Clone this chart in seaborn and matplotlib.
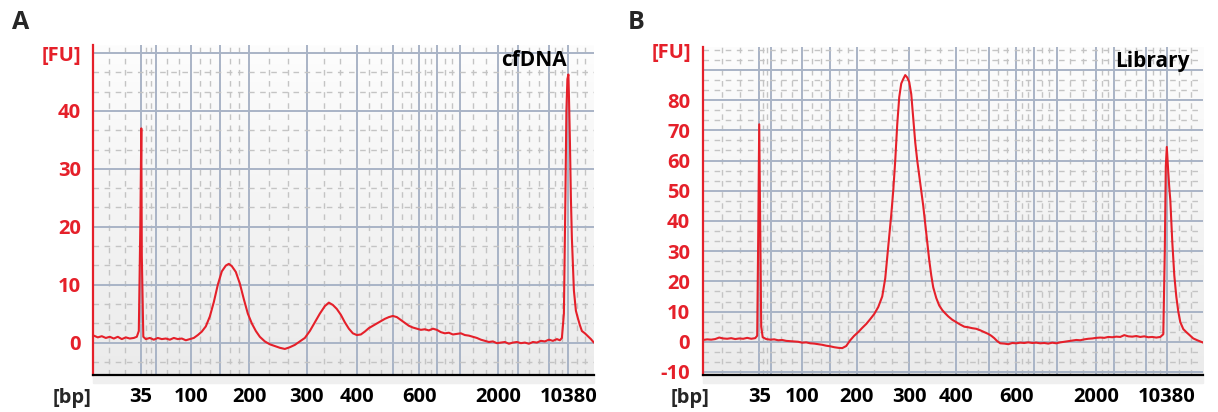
import numpy as np
import pandas as pd
import matplotlib
matplotlib.use('Agg')
from matplotlib import pyplot as plt
from matplotlib import transforms
from matplotlib.colors import LinearSegmentedColormap
from matplotlib.ticker import FixedLocator
import seaborn as sns

sns.set_style('white')
plt.rcParams['font.family'] = ['Open Sans', 'DejaVu Sans']
plt.rcParams['font.weight'] = 'bold'

# ladder sizes (bp) shown on the x axis and their migration times (s)
ladder_labels = ['35', '', '100', '', '200', '300', '400', '', '600', '', '', '2000', '', '', '10380']
ladder_time_a = [29.5, 32.5, 39.5, 45.3, 51.2, 62.7, 72.7, 79.9, 85.2, 88.7, 93.3, 101.0, 105.0, 111.1, 115.0]
ladder_time_b = [31.3, 33.6, 39.9, 45.5, 50.8, 61.3, 70.6, 77.3, 82.7, 86.3, 90.8, 98.6, 102.3, 108.7, 112.8]

# A: cfDNA trace
time_a = [20.1, 20.9, 21.7, 22.5, 23.3, 24.1, 24.9, 25.7, 26.5, 27.3, 28.1, 28.7, 29.1, 29.4, 29.6,
          29.7, 29.9, 30.0, 30.5, 31.3, 32.1, 32.9, 33.7, 34.5, 35.3, 36.1, 36.9, 37.7, 38.5, 39.3,
          40.1, 40.9, 41.7, 42.5, 43.3, 44.1, 44.9, 45.7, 46.5, 47.1, 47.7, 48.5, 49.3, 50.1, 50.9,
          51.7, 52.5, 53.3, 54.3, 55.3, 56.3, 57.3, 58.3, 59.3, 60.3, 61.3, 62.3, 63.3, 64.3, 65.3,
          66.3, 67.1, 67.9, 68.7, 69.5, 70.3, 71.1, 71.9, 72.7, 73.5, 74.3, 75.1, 75.9, 76.7, 77.5,
          78.3, 79.1, 79.9, 80.7, 81.5, 82.3, 83.1, 83.9, 84.7, 85.5, 86.3, 87.1, 87.9, 88.7, 89.5,
          90.3, 91.1, 91.9, 92.7, 93.5, 94.3, 95.1, 95.9, 96.7, 97.5, 98.3, 99.1, 99.9, 100.7, 101.5,
          102.3, 103.1, 103.9, 104.7, 105.5, 106.3, 107.1, 107.9, 108.7, 109.5, 110.3, 111.1, 111.9, 112.7, 113.3,
          113.7, 114.1, 114.4, 114.6, 114.8, 115.0, 115.1, 115.3, 115.5, 115.7, 116.1, 116.5, 116.9, 117.3, 117.7,
          118.3, 118.9, 119.5, 120.1]
fu_a = [1.2, 0.9, 1.1, 0.8, 1.0, 0.7, 1.0, 0.6, 0.9, 0.7, 0.8, 1.0, 2.0, 20, 37,
        15, 5, 1.0, 0.6, 0.8, 0.5, 0.8, 0.6, 0.7, 0.5, 0.8, 0.6, 0.7, 0.4, 0.6,
        0.8, 1.3, 1.9, 2.8, 4.5, 7.0, 10.0, 12.3, 13.3, 13.6, 13.2, 12.2, 10.2, 7.5, 5.0,
        3.3, 2.0, 1.0, 0.2, -0.3, -0.6, -0.9, -1.1, -0.8, -0.4, 0.2, 0.8, 2.0, 3.5, 5.0,
        6.3, 6.9, 6.5, 5.8, 4.8, 3.5, 2.4, 1.6, 1.3, 1.4, 1.9, 2.5, 2.9, 3.3, 3.7,
        4.1, 4.4, 4.6, 4.4, 3.9, 3.4, 2.9, 2.6, 2.4, 2.2, 2.3, 2.1, 2.4, 2.2, 1.8,
        1.6, 1.7, 1.4, 1.5, 1.6, 1.3, 1.2, 1.0, 0.8, 0.5, 0.3, 0.1, 0.2, -0.1, 0.0,
        0.1, -0.2, 0.0, 0.1, -0.1, 0.0, -0.2, 0.1, 0.0, 0.3, 0.2, 0.5, 0.3, 0.6, 0.4,
        0.8, 5, 25, 40, 45.5, 46.3, 43, 35, 25, 18, 9, 5.5, 4.2, 3.0, 2.0,
        1.6, 1.1, 0.6, 0.0]

# B: library trace
time_b = [20.1, 20.9, 21.7, 22.5, 23.3, 24.1, 24.9, 25.7, 26.5, 27.3, 28.1, 28.9, 29.7, 30.5, 30.9,
          31.1, 31.3, 31.5, 31.7, 32.0, 32.7, 33.5, 34.3, 35.1, 35.9, 36.7, 37.5, 38.3, 39.1, 39.9,
          40.7, 41.5, 42.3, 43.1, 43.9, 44.7, 45.5, 46.3, 47.1, 47.9, 48.7, 49.5, 50.3, 51.1, 51.9,
          52.7, 53.5, 54.3, 55.1, 55.9, 56.5, 56.9, 57.3, 57.7, 58.1, 58.5, 58.9, 59.3, 59.7, 60.1,
          60.5, 60.9, 61.3, 61.7, 62.1, 62.5, 62.9, 63.3, 63.7, 64.1, 64.5, 64.9, 65.3, 65.7, 66.1,
          66.7, 67.3, 67.9, 68.5, 69.1, 69.9, 70.7, 71.5, 72.3, 73.1, 73.9, 74.7, 75.5, 76.3, 77.1,
          77.7, 78.3, 78.9, 79.5, 80.3, 81.1, 81.9, 82.7, 83.5, 84.3, 85.1, 85.9, 86.7, 87.5, 88.3,
          89.1, 89.9, 90.7, 91.5, 92.3, 93.1, 93.9, 94.7, 95.5, 96.3, 97.1, 97.9, 98.7, 99.5, 100.3,
          101.1, 101.9, 102.7, 103.5, 104.3, 105.1, 105.9, 106.7, 107.5, 108.3, 109.1, 109.9, 110.7, 111.5, 112.1,
          112.4, 112.6, 112.8, 113.1, 113.3, 113.5, 113.9, 114.3, 114.7, 115.1, 115.5, 116.1, 116.7, 117.3, 118.1,
          118.9, 119.5, 120.1]
fu_b = [0.6, 0.8, 0.7, 0.9, 1.4, 1.1, 1.0, 1.2, 0.9, 1.1, 1.0, 1.3, 1.0, 1.2, 2.0,
        35, 72, 40, 5, 1.5, 0.9, 0.7, 0.8, 0.5, 0.6, 0.3, 0.2, 0.1, 0.0, -0.3,
        -0.2, -0.5, -0.6, -0.8, -1.0, -1.3, -1.5, -1.8, -2.0, -2.1, -1.4, 0.5, 2.0, 3.2, 4.6,
        5.9, 7.5, 9.2, 11.5, 15, 21, 28, 35, 42, 50, 60, 72, 81, 85.5, 87,
        88.3, 87.5, 86, 82, 74, 66, 60, 55, 50, 45, 39, 33, 27, 22, 18,
        14.5, 12, 10.5, 9.4, 8.4, 7.3, 6.5, 5.7, 5.0, 4.8, 4.5, 4.3, 3.8, 3.2, 2.6,
        2.0, 1.2, 0.2, -0.5, -0.6, -0.8, -0.4, -0.5, -0.3, -0.4, -0.2, -0.4, -0.3, -0.5, -0.4,
        -0.6, -0.3, -0.5, -0.2, 0.0, 0.2, 0.4, 0.6, 0.5, 0.8, 1.0, 1.1, 1.3, 1.4, 1.3,
        1.6, 1.5, 1.7, 1.6, 2.2, 1.8, 1.7, 1.9, 1.6, 1.8, 1.5, 1.6, 1.4, 1.6, 2.5,
        30, 58, 64.5, 56, 51, 47, 33, 22, 15, 10, 6.5, 4.2, 3.2, 2.3, 1.1,
        0.5, 0.1, -0.3]

RED = '#e5202a'
W, H = 1218, 412
FS = 14.5

fig = plt.figure(figsize=(W / 100, H / 100), dpi=100)
bg = LinearSegmentedColormap.from_list('bg', ['#ebebeb', '#fdfdfd'])


def panel(left, top, time, fu, ladder_time, ylim, yticks, ylabels, name, name_x):
    ax = fig.add_axes([left / W, 1 - 375 / H, 500.6 / W, (375 - top) / H])
    fig.add_artist(plt.Rectangle((left / W, 1 - 383 / H), 500.6 / W, 8 / H,
                                 transform=fig.transFigure, color='#efefef', zorder=-1))
    ax.imshow(np.linspace(0, 1, 256).reshape(-1, 1), cmap=bg, origin='lower',
              extent=(0, 1, 0, 1), transform=ax.transAxes, aspect='auto', zorder=0)

    df = pd.DataFrame({'time': time, 'fu': fu})
    sns.lineplot(data=df, x='time', y='fu', ax=ax, color=RED, linewidth=1.5,
                 sort=False, estimator=None, zorder=3)

    xlim = (20, 120.1)
    ax.set_xlim(xlim)
    ax.set_ylim(ylim)
    ax.set_xlabel('')
    ax.set_ylabel('')

    ax.set_xticks(ladder_time)
    ax.set_xticklabels(ladder_labels)
    edges = [xlim[0]] + list(ladder_time) + [xlim[1]]
    xminor = []
    for a, b in zip(edges[:-1], edges[1:]):
        xminor += [a + (b - a) / 3, a + 2 * (b - a) / 3]
    ax.xaxis.set_minor_locator(FixedLocator(xminor))

    ax.set_yticks(yticks)
    ax.set_yticklabels(ylabels)
    yminor = [k * 10 / 3 for k in range(-4, 30) if k % 3 != 0]
    ax.yaxis.set_minor_locator(FixedLocator(yminor))

    ax.set_axisbelow(True)
    ax.grid(which='major', color='#a9b4c6', linewidth=1.4, linestyle='-')
    ax.grid(which='minor', color='#c4c4c4', linewidth=1.0, linestyle=(0, (4, 4)))

    for s in ['top', 'right']:
        ax.spines[s].set_visible(False)
    ax.spines['left'].set_color(RED)
    ax.spines['left'].set_linewidth(1.6)
    ax.spines['bottom'].set_color('black')
    ax.spines['bottom'].set_linewidth(1.6)

    ax.tick_params(axis='y', which='major', direction='out', length=6, width=1.3,
                   color=RED, labelcolor=RED, labelsize=FS, pad=3)
    ax.tick_params(axis='x', which='major', direction='out', length=6, width=1.3,
                   color='black', labelcolor='black', labelsize=FS, pad=3)
    ax.tick_params(which='minor', length=0)
    for lab in ax.get_xticklabels() + ax.get_yticklabels():
        lab.set_fontweight('bold')

    ax.text(name_x, 0.954, name, transform=ax.transAxes, ha='right', va='center',
            fontsize=15, fontweight='bold', color='black', zorder=4)
    return ax


ax_a = panel(93.3, 45, time_a, fu_a, ladder_time_a, (-5.6, 51.4),
             [0, 10, 20, 30, 40, 50], ['0', '10', '20', '30', '40', '[FU]'],
             'cfDNA', 0.9455)
ax_b = panel(702.7, 46.7, time_b, fu_b, ladder_time_b, (-11.0, 97.7),
             [-10, 0, 10, 20, 30, 40, 50, 60, 70, 80, 90],
             ['-10', '0', '10', '20', '30', '40', '50', '60', '70', '80', ''],
             'Library', 0.9734)

trans = transforms.blended_transform_factory(ax_b.transAxes, ax_b.transData)
ax_b.text(-0.0234, 95.6, '[FU]', transform=trans, ha='right', va='center',
          fontsize=FS, fontweight='bold', color=RED)

fig.text(91 / W, 1 - 398 / H, '[bp]', ha='right', va='center', fontsize=FS, fontweight='bold')
fig.text(710 / W, 1 - 398 / H, '[bp]', ha='right', va='center', fontsize=FS, fontweight='bold')
fig.text(12 / W, 1 - 10 / H, 'A', ha='left', va='top', fontsize=18, fontweight='bold')
fig.text(628 / W, 1 - 10 / H, 'B', ha='left', va='top', fontsize=18, fontweight='bold')

fig.savefig('out.png', dpi=100)
